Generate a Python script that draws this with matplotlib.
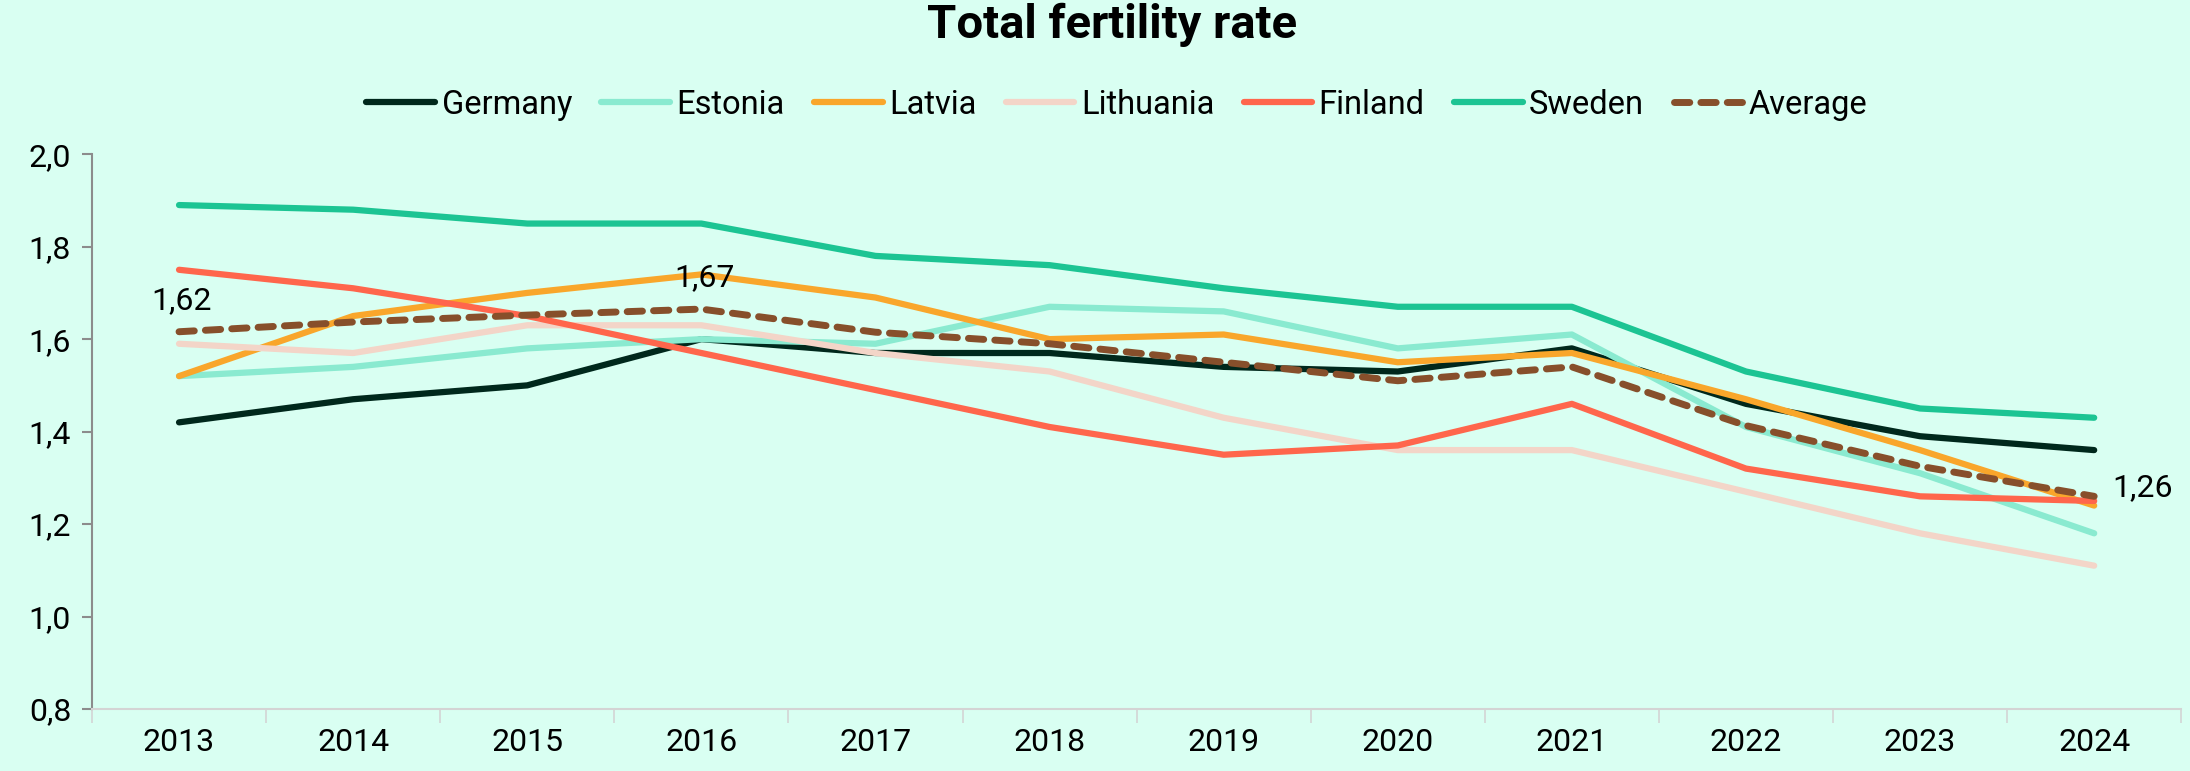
import numpy as np
import matplotlib.pyplot as plt
from matplotlib.ticker import FuncFormatter, FixedLocator

plt.rcParams['font.family'] = ['Roboto', 'DejaVu Sans']

years = ['2013', '2014', '2015', '2016', '2017', '2018', '2019', '2020', '2021', '2022', '2023', '2024']

germany   = [1.42, 1.47, 1.50, 1.60, 1.57, 1.57, 1.54, 1.53, 1.58, 1.46, 1.39, 1.36]
estonia   = [1.52, 1.54, 1.58, 1.60, 1.59, 1.67, 1.66, 1.58, 1.61, 1.41, 1.31, 1.18]
latvia    = [1.52, 1.65, 1.70, 1.74, 1.69, 1.60, 1.61, 1.55, 1.57, 1.47, 1.36, 1.24]
lithuania = [1.59, 1.57, 1.63, 1.63, 1.57, 1.53, 1.43, 1.36, 1.36, 1.27, 1.18, 1.11]
finland   = [1.75, 1.71, 1.65, 1.57, 1.49, 1.41, 1.35, 1.37, 1.46, 1.32, 1.26, 1.25]
sweden    = [1.89, 1.88, 1.85, 1.85, 1.78, 1.76, 1.71, 1.67, 1.67, 1.53, 1.45, 1.43]
average   = [1.616, 1.637, 1.652, 1.665, 1.615, 1.59, 1.55, 1.51, 1.54, 1.413, 1.325, 1.26]

labelled = [0, 3, 11]  # average points with a value label

bg = '#d9fff2'
fig = plt.figure(figsize=(21.9, 7.71), dpi=100, facecolor=bg)
ax = fig.add_axes([0.042, 0.0804, 0.954, 0.7196], facecolor=bg)

x = np.arange(len(years))
series = [
    ('Germany', germany, '#00281c'),
    ('Estonia', estonia, '#8aead0'),
    ('Latvia', latvia, '#f9a62b'),
    ('Lithuania', lithuania, '#f3d5c8'),
    ('Finland', finland, '#ff664c'),
    ('Sweden', sweden, '#1cc493'),
]
for name, vals, col in series:
    ax.plot(x, vals, color=col, lw=4.5, label=name, solid_capstyle='round')
ax.plot(x, average, color='#874f2b', lw=5, ls=(0, (2.2, 1.6)), dash_capstyle='round',
        label='Average')

fmt = lambda v: ('%.2f' % v).replace('.', ',')
for i in labelled:
    v = average[i]
    if i == len(years) - 1:
        ax.annotate(fmt(v), (x[i], v), xytext=(13, 6), textcoords='offset points',
                    ha='left', va='center', fontsize=23)
    else:
        ax.annotate(fmt(v), (x[i], v), xytext=(2, 12), textcoords='offset points',
                    ha='center', va='bottom', fontsize=23)

ax.set_xlim(-0.5, len(years) - 0.5)
ax.set_ylim(0.8, 2.0)
ax.set_yticks(np.arange(0.8, 2.01, 0.2))
ax.yaxis.set_major_formatter(FuncFormatter(lambda v, p: ('%.1f' % v).replace('.', ',')))

ax.set_xticks(x)
ax.set_xticklabels(years)
ax.xaxis.set_minor_locator(FixedLocator(np.arange(-0.5, len(years), 1.0)))
ax.tick_params(axis='x', which='major', length=0, labelsize=23, pad=14)
ax.tick_params(axis='x', which='minor', length=10, color='#d4d4d4', width=1.2)
ax.tick_params(axis='y', length=7, color='#8c8c8c', width=1.5, labelsize=23, pad=8)

for s in ['top', 'right']:
    ax.spines[s].set_visible(False)
ax.spines['left'].set_color('#8c8c8c')
ax.spines['left'].set_linewidth(1.5)
ax.spines['bottom'].set_color('#d4d4d4')
ax.spines['bottom'].set_linewidth(1.5)

fig.text(0.508, 0.968, 'Total fertility rate', ha='center', va='center',
         fontsize=34, fontweight='bold')
fig.legend(loc='center', bbox_to_anchor=(0.51, 0.864), ncol=7, frameon=False,
           fontsize=23.5, handlelength=2.1, handletextpad=0.2, columnspacing=0.9)

fig.savefig('out.png', facecolor=bg)
